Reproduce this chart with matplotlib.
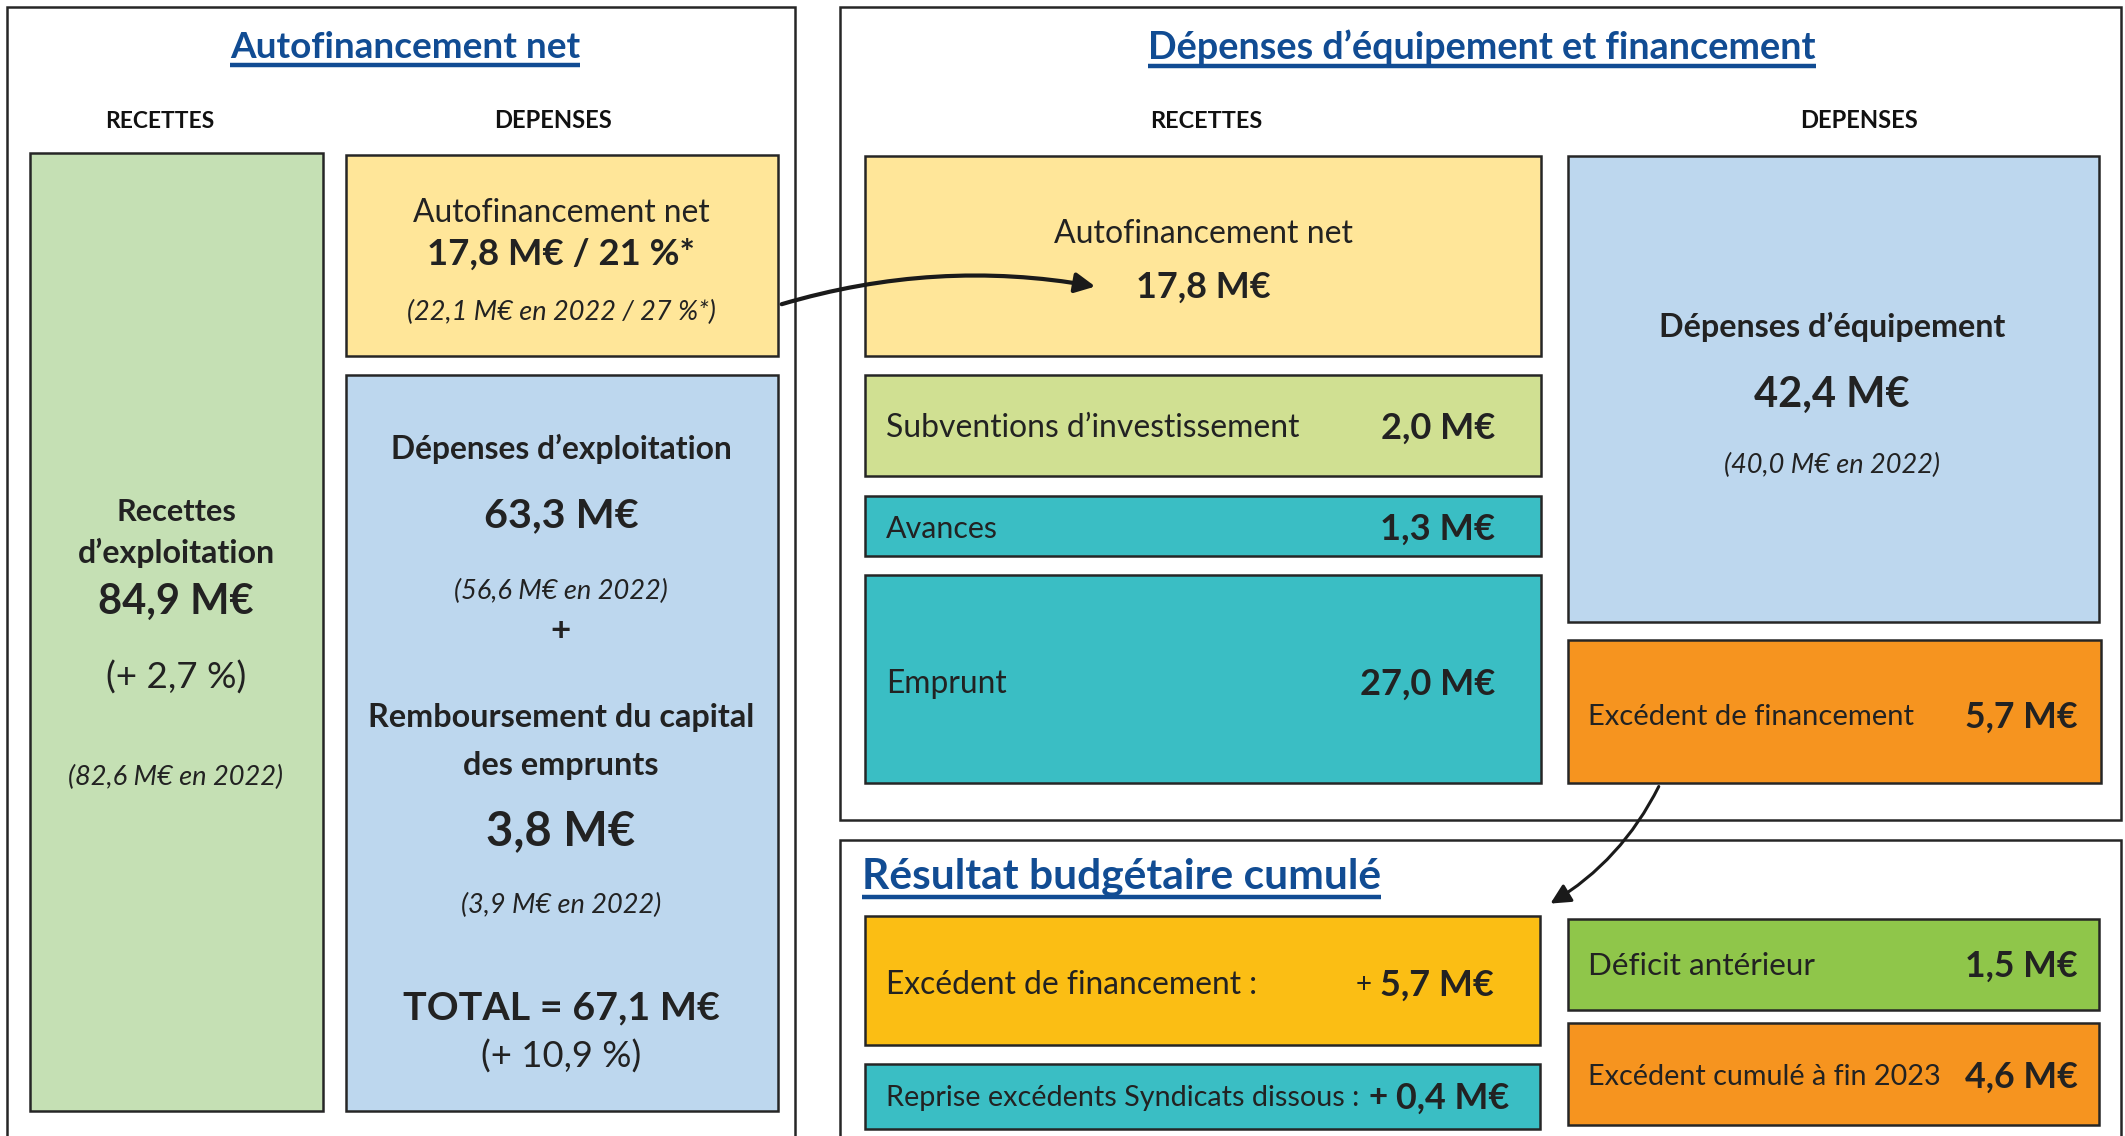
import matplotlib.pyplot as plt
from matplotlib.patches import Rectangle, FancyArrowPatch

plt.rcParams['font.family'] = ['Lato', 'DejaVu Sans']

W, H = 2125, 1136

# values (M€)
rec_exploit = 84.9
rec_exploit_prev = 82.6
rec_exploit_var = 2.7
autofin = 17.8
autofin_pct = 21
autofin_prev = 22.1
autofin_prev_pct = 27
dep_exploit = 63.3
dep_exploit_prev = 56.6
remb_capital = 3.8
remb_capital_prev = 3.9
total_dep = 67.1
total_dep_var = 10.9

invest_labels = ["Subventions d’investissement", "Avances", "Emprunt"]
invest_values = [2.0, 1.3, 27.0]
dep_equip = 42.4
dep_equip_prev = 40.0
excedent_fin = 5.7

result_left_labels = ["Excédent de financement :", "Reprise excédents Syndicats dissous :"]
result_left_values = [5.7, 0.4]
result_right_labels = ["Déficit antérieur", "Excédent cumulé à fin 2023"]
result_right_values = [1.5, 4.6]

titles = ["Autofinancement net", "Dépenses d’équipement et financement", "Résultat budgétaire cumulé"]


def eur(v):
    return f"{v:.1f}".replace('.', ',') + " M€"


def fr(v):
    return f"{v:.1f}".replace('.', ',')


TITLE_BLUE = "#114C93"
EDGE = "#262626"
TXT = "#222222"

fig = plt.figure(figsize=(W / 100, H / 100), dpi=100)
ax = fig.add_axes([0, 0, 1, 1])
ax.set_xlim(0, W)
ax.set_ylim(H, 0)
ax.axis('off')
renderer = fig.canvas.get_renderer()


def box(x0, y0, x1, y1, color, lw=1.8):
    ax.add_patch(Rectangle((x0, y0), x1 - x0, y1 - y0, facecolor=color,
                           edgecolor=EDGE, linewidth=lw, zorder=2))


def panel(x0, y0, x1, y1):
    ax.add_patch(Rectangle((x0, y0), x1 - x0, y1 - y0, facecolor="white",
                           edgecolor=EDGE, linewidth=1.8, zorder=1, clip_on=False))


def txt(x, y, s, width, weight='normal', style='normal', ha='center', color=TXT):
    # font size is scaled so the text is about `width` pixels wide
    t = ax.text(x, y, s, fontsize=20, fontweight=weight, fontstyle=style,
                ha=ha, va='center', color=color, zorder=5)
    w = t.get_window_extent(renderer).width
    t.set_fontsize(20 * width / w)
    return t


# panels
panel(7, 7, 795, 1150)
panel(840, 7, 2121, 820)
panel(840, 840, 2121, 1150)

# titles
t1 = txt(405, 47, titles[0], 350, 'bold', color=TITLE_BLUE)
t2 = txt(1482, 47, titles[1], 668, 'bold', color=TITLE_BLUE)
t3 = txt(862, 877, titles[2], 518, 'bold', ha='left', color=TITLE_BLUE)

for x, s, w in [(160, "RECETTES", 109), (553, "DEPENSES", 118),
                (1206, "RECETTES", 112), (1859, "DEPENSES", 118)]:
    txt(x, 121, s, w, 'bold', color="#111111")

# ---- Autofinancement net panel
box(30, 153, 323, 1111, "#C5E0B4")
txt(176, 512, "Recettes", 120, 'bold')
txt(176, 553, "d’exploitation", 197, 'bold')
txt(176, 602, eur(rec_exploit), 156, 'bold')
txt(176, 678, f"(+ {fr(rec_exploit_var)} %)", 140)
txt(176, 777, f"({eur(rec_exploit_prev)} en 2022)", 215, style='italic')

box(346, 155, 778, 356, "#FFE699")
txt(561, 213, "Autofinancement net", 298)
txt(561, 254, f"{eur(autofin)} / {autofin_pct} %*", 268, 'bold')
txt(561, 312, f"({eur(autofin_prev)} en 2022 / {autofin_prev_pct} %*)", 309, style='italic')

box(346, 375, 778, 1111, "#BDD7EE")
txt(561, 449, "Dépenses d’exploitation", 342, 'bold')
txt(561, 516, eur(dep_exploit), 154, 'bold')
txt(561, 591, f"({eur(dep_exploit_prev)} en 2022)", 214, style='italic')
txt(561, 631, "+", 20, 'bold')
txt(561, 718, "Remboursement du capital", 386, 'bold')
txt(561, 766, "des emprunts", 196, 'bold')
txt(561, 831, eur(remb_capital), 149, 'bold')
txt(561, 905, f"({eur(remb_capital_prev)} en 2022)", 200, style='italic')
txt(561, 1008, f"TOTAL = {eur(total_dep)}", 316, 'bold')
txt(561, 1057, f"(+ {fr(total_dep_var)} %)", 160)

# ---- Dépenses d'équipement et financement panel
box(865, 156, 1541, 356, "#FFE699")
txt(1203, 234, "Autofinancement net", 300)
txt(1203, 287, eur(autofin), 135, 'bold')

invest_boxes = [(375, 476, "#D0E092"), (496, 556, "#3ABEC4"), (575, 783, "#3ABEC4")]
invest_text_y = [428, 529, 684]
invest_label_w = [416, 112, 121]
invest_value_w = [115, 115, 136]
for lab, val, (y0, y1, col), ty, lw_, vw in zip(invest_labels, invest_values, invest_boxes,
                                               invest_text_y, invest_label_w, invest_value_w):
    box(865, y0, 1541, y1, col)
    txt(886, ty, lab, lw_, ha='left')
    txt(1495, ty, eur(val), vw, 'bold', ha='right')

box(1568, 156, 2099, 622, "#BDD7EE")
txt(1832, 327, "Dépenses d’équipement", 347, 'bold')
txt(1832, 395, eur(dep_equip), 156, 'bold')
txt(1832, 465, f"({eur(dep_equip_prev)} en 2022)", 216, style='italic')

box(1568, 640, 2101, 783, "#F6941F")
txt(1588, 717, "Excédent de financement", 326, ha='left')
txt(2078, 717, eur(excedent_fin), 113, 'bold', ha='right')

# ---- Résultat budgétaire cumulé panel
left_boxes = [(916, 1045, "#FBBE14"), (1064, 1129, "#3ABEC4")]
left_text_y = [985, 1098]
left_label_w = [372, 474]
left_val_x = [1494, 1509]
left_val_tx = []
for lab, val, (y0, y1, col), ty, lw_, vx in zip(result_left_labels, result_left_values,
                                               left_boxes, left_text_y, left_label_w, left_val_x):
    box(865, y0, 1540, y1, col)
    txt(886, ty, lab, lw_, ha='left')
    left_val_tx.append(txt(vx, ty, eur(val), 114, 'bold', ha='right'))

right_boxes = [(919, 1010, "#8FC64A"), (1023, 1125, "#F6941F")]
right_text_y = [966, 1077]
right_label_w = [228, 353]
for lab, val, (y0, y1, col), ty, lw_ in zip(result_right_labels, result_right_values,
                                           right_boxes, right_text_y, right_label_w):
    box(1568, y0, 2099, y1, col)
    txt(1588, ty, lab, lw_, ha='left')
    txt(2078, ty, eur(val), 113, 'bold', ha='right')

# arrows
ax.add_patch(FancyArrowPatch((779, 305), (1098, 287), connectionstyle="arc3,rad=-0.12",
                             arrowstyle="-|>,head_length=12,head_width=6",
                             color="#1a1a1a", linewidth=3, zorder=6))
ax.add_patch(FancyArrowPatch((1660, 784), (1548, 905), connectionstyle="arc3,rad=-0.15",
                             arrowstyle="-|>,head_length=12,head_width=6",
                             color="#1a1a1a", linewidth=2.2, zorder=6))

# underlines under the titles
for t in (t1, t2, t3):
    bb = t.get_window_extent(renderer)
    y = H - bb.y0 + 1
    ax.plot([bb.x0, bb.x1], [y, y], color=TITLE_BLUE, linewidth=3.2, zorder=5,
            solid_capstyle='butt')

# "+" signs in front of the values (regular, then bold as in the source)
bb = left_val_tx[0].get_window_extent(renderer)
txt(bb.x0 - 9, left_text_y[0], "+", 16, ha='right')
bb = left_val_tx[1].get_window_extent(renderer)
txt(bb.x0 - 8, left_text_y[1], "+", 19, 'bold', ha='right')

fig.savefig("out.png", dpi=100)
